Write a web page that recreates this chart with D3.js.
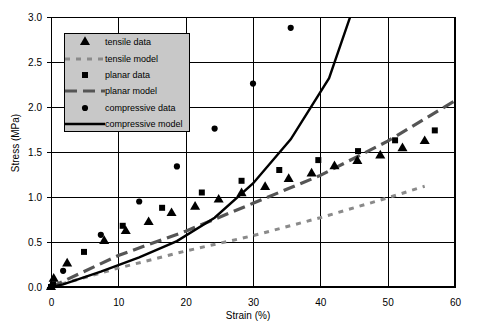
<!DOCTYPE html>
<html><head><meta charset="utf-8">
<script src="https://cdn.jsdelivr.net/npm/d3@7"></script>
<style>
html,body{margin:0;padding:0;background:#fff;}
svg{display:block;font-family:"Liberation Sans",Arial,sans-serif;}
</style></head>
<body>
<svg id="chart" width="479" height="334"></svg>
<script>
// ---- data ----
const tensileStrain = [0, 0.4, 2.4, 7.9, 11.1, 14.5, 17.9, 21.4, 24.9, 28.3, 31.8, 35.3, 38.7, 42.1, 45.5, 48.9, 52.2, 55.5];
const tensileStress = [0, 0.09, 0.26, 0.51, 0.62, 0.72, 0.82, 0.89, 0.97, 1.04, 1.11, 1.20, 1.26, 1.34, 1.40, 1.46, 1.54, 1.62];
const tensileModelStrain = [0, 10, 20, 30, 40, 50, 55.5];
const tensileModelStress = [0, 0.21, 0.40, 0.57, 0.77, 0.99, 1.12];
const planarStrain = [0, 0.3, 4.9, 10.65, 16.5, 22.4, 28.3, 33.9, 39.7, 45.6, 51.1, 57.0];
const planarStress = [0, 0.03, 0.39, 0.68, 0.88, 1.05, 1.18, 1.30, 1.41, 1.51, 1.63, 1.74];
const planarModelStrain = [0, 10, 20, 30, 40, 50, 60];
const planarModelStress = [0, 0.35, 0.62, 0.93, 1.24, 1.62, 2.07];
const compStrain = [0, 1.8, 7.4, 13.1, 18.7, 24.3, 30.0, 35.6];
const compStress = [0, 0.18, 0.58, 0.95, 1.34, 1.76, 2.26, 2.88];
const compModelStrain = [0, 1.8, 7.4, 13.1, 18.7, 24.3, 30.0, 35.6, 41.3, 47.0];
const compModelStress = [0, 0.03, 0.17, 0.33, 0.51, 0.77, 1.15, 1.64, 2.32, 3.56];
const xTicks = [0, 10, 20, 30, 40, 50, 60];
const yTicks = [0, 0.5, 1.0, 1.5, 2.0, 2.5, 3.0];
const legendLabels = ["tensile data", "tensile model", "planar data", "planar model", "compressive data", "compressive model"];

// ---- layout ----
const L = 51, T = 17, R = 455, B = 287;
const svg = d3.select("#chart");
const x = d3.scaleLinear().domain([0, 60]).range([L, R]);
const y = d3.scaleLinear().domain([0, 3]).range([B, T]);

svg.append("defs").append("clipPath").attr("id", "clip")
  .append("rect").attr("x", L).attr("y", T).attr("width", R - L).attr("height", B - T);

// grid
const g = svg.append("g");
g.selectAll("line.vx").data(xTicks.slice(1, -1)).join("line")
  .attr("x1", d => Math.round(x(d)) + 0.5).attr("x2", d => Math.round(x(d)) + 0.5)
  .attr("y1", T).attr("y2", B).attr("stroke", "#000").attr("stroke-width", 1);
g.selectAll("line.hy").data(yTicks.slice(1, -1)).join("line")
  .attr("y1", d => Math.round(y(d)) + 0.5).attr("y2", d => Math.round(y(d)) + 0.5)
  .attr("x1", L - 4).attr("x2", R).attr("stroke", "#000").attr("stroke-width", 1);

// axes
const xAxis = d3.axisBottom(x).tickValues(xTicks).tickSize(0).tickPadding(12).tickFormat(d3.format("d"));
const yAxis = d3.axisLeft(y).tickValues(yTicks).tickSize(4).tickPadding(5).tickFormat(d3.format(".1f"));
const gx = svg.append("g").attr("transform", `translate(0,${B})`).call(xAxis);
const gy = svg.append("g").attr("transform", `translate(${L},0)`).call(yAxis);
[gx, gy].forEach(a => {
  a.select(".domain").remove();
  a.selectAll("text").attr("font-size", 10).attr("fill", "#000")
    .attr("font-family", "'Liberation Sans', Arial, sans-serif");
  a.selectAll("line").attr("stroke", "#000");
});
gx.selectAll("text").attr("dy", "0.71em");

// frame
svg.append("rect").attr("x", L + 0.5).attr("y", T + 0.5).attr("width", R - L - 1).attr("height", B - T - 1)
  .attr("fill", "none").attr("stroke", "#000").attr("stroke-width", 1);
svg.append("line").attr("x1", R + 0.5).attr("x2", R + 0.5).attr("y1", T).attr("y2", B + 1).attr("stroke", "#000");
svg.append("line").attr("x1", L).attr("x2", R + 1).attr("y1", B + 0.5).attr("y2", B + 0.5).attr("stroke", "#000");

// axis titles
svg.append("text").attr("x", 248).attr("y", 319).attr("text-anchor", "middle")
  .attr("font-size", 10).text("Strain (%)");
svg.append("text").attr("transform", "translate(19,143) rotate(-90)").attr("text-anchor", "middle")
  .attr("font-size", 10).text("Stress (MPa)");

// styles
const styles = {
  tModel: {stroke: "#8a8a8a", width: 3, dash: "5,6"},
  pModel: {stroke: "#555555", width: 3.2, dash: "12,6"},
  cModel: {stroke: "#000000", width: 2.4, dash: null}
};
const line = d3.line().x(d => x(d[0])).y(d => y(d[1]));
const plot = svg.append("g").attr("clip-path", "url(#clip)");
function drawLine(xs, ys, st) {
  plot.append("path").datum(d3.zip(xs, ys)).attr("d", line)
    .attr("fill", "none").attr("stroke", st.stroke).attr("stroke-width", st.width)
    .attr("stroke-dasharray", st.dash);
}
drawLine(tensileModelStrain, tensileModelStress, styles.tModel);
drawLine(planarModelStrain, planarModelStress, styles.pModel);
drawLine(compModelStrain, compModelStress, styles.cModel);

const tri = d3.symbol().type(d3.symbolTriangle).size(44);
const sq = d3.symbol().type(d3.symbolSquare).size(36);
const circ = d3.symbol().type(d3.symbolCircle).size(30);
function drawPts(xs, ys, sym) {
  svg.append("g").selectAll("path").data(d3.zip(xs, ys)).join("path")
    .attr("d", sym).attr("transform", d => `translate(${x(d[0])},${y(d[1])})`).attr("fill", "#000");
}
drawPts(tensileStrain, tensileStress, tri);
drawPts(planarStrain, planarStress, sq);
drawPts(compStrain, compStress, circ);

// legend
const lg = svg.append("g");
lg.append("rect").attr("x", 64.5).attr("y", 33.5).attr("width", 125).attr("height", 98)
  .attr("fill", "#c8c8c8").attr("stroke", "#000").attr("stroke-width", 1);
const rowY = [42, 59, 75, 91, 108, 124];
const syms = [tri, null, sq, null, circ, null];
const lst = [null, styles.tModel, null, styles.pModel, null, styles.cModel];
legendLabels.forEach((lab, i) => {
  if (syms[i]) {
    lg.append("path").attr("d", syms[i]).attr("transform", `translate(85,${rowY[i]})`).attr("fill", "#000");
  } else {
    const st = lst[i];
    lg.append("line").attr("x1", 65).attr("x2", 105).attr("y1", rowY[i]).attr("y2", rowY[i])
      .attr("stroke", st.stroke).attr("stroke-width", st.width).attr("stroke-dasharray", st.dash);
  }
  lg.append("text").attr("x", 105).attr("y", rowY[i]).attr("dy", "0.35em")
    .attr("font-size", 9).text(lab);
});
</script>
</body></html>
